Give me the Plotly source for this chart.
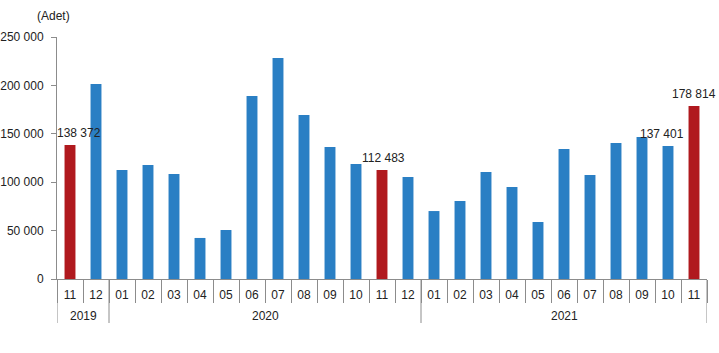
import plotly.graph_objects as go

years = ["2019"] * 2 + ["2020"] * 12 + ["2021"] * 11
months = ["11", "12"] + [f"{m:02d}" for m in range(1, 13)] + [f"{m:02d}" for m in range(1, 12)]
values = [138372, 201500, 112600, 117800, 108500, 42400, 50600, 189000, 228300, 169400,
          136400, 118800, 112483, 105400, 70200, 80600, 110500, 95000, 58900, 134300,
          107400, 140500, 146700, 137401, 178814]
highlight = [0, 12, 24]
labeled = {0: "138 372", 12: "112 483", 23: "137 401", 24: "178 814"}
label_xshift = {0: 9, 12: 1, 23: -6, 24: 0}

BLUE = "#2A7FC4"
RED = "#B0191E"
GRAY = "#8c8c8c"
FONT = "Liberation Sans, Arial, sans-serif"
colors = [RED if i in highlight else BLUE for i in range(len(values))]
xs = list(range(len(values)))

fig = go.Figure(go.Bar(
    x=xs, y=values,
    marker=dict(color=colors, line=dict(width=0)),
    hoverinfo="x+y",
))

annotations = [dict(text="(Adet)", xref="paper", yref="paper", x=-0.006, y=1.087,
                    xanchor="center", yanchor="middle", showarrow=False,
                    font=dict(size=12, color="#222"))]
for i, t in labeled.items():
    annotations.append(dict(text=t, x=xs[i], y=values[i], xref="x", yref="y",
                            xanchor="center", yanchor="bottom", yshift=3,
                            xshift=label_xshift[i], showarrow=False,
                            font=dict(size=12, color="#222")))

# year groups: boundaries and centred labels
shapes = []
groups = []
for i, yv in enumerate(years):
    if not groups or groups[-1][0] != yv:
        groups.append([yv, i, i])
    else:
        groups[-1][2] = i
plot_h = 353 - 37 - 74
for yv, a, b in groups:
    annotations.append(dict(text=yv, x=(a + b) / 2, xref="x", yref="paper",
                            y=-(316 - 279) / plot_h, xanchor="center", yanchor="middle",
                            showarrow=False, font=dict(size=12, color="#222")))
bounds = sorted({g[1] - 0.5 for g in groups} | {groups[-1][2] + 0.5})
for bx in bounds:
    shapes.append(dict(type="line", xref="x", yref="paper", x0=bx, x1=bx,
                       y0=0, y1=-44 / plot_h, line=dict(color=GRAY, width=1)))

fig.update_layout(
    width=719, height=353,
    margin=dict(l=57, r=12, t=37, b=74),
    paper_bgcolor="white", plot_bgcolor="white",
    bargap=0.58, showlegend=False,
    separators=", ",
    font=dict(family=FONT, size=12, color="#222"),
    annotations=annotations, shapes=shapes,
)
fig.update_yaxes(range=[0, 250000], dtick=50000, tickformat=",d", showgrid=False,
                 showline=True, linecolor=GRAY, linewidth=1, ticks="outside",
                 ticklen=5, tickcolor=GRAY, zeroline=False, ticklabelstandoff=5,
                 automargin=False)
fig.update_xaxes(range=[-0.5, len(values) - 0.5], tickmode="array", tickvals=xs,
                 ticktext=months, ticks="", showline=True, linecolor=GRAY, linewidth=1,
                 showgrid=False, zeroline=False, ticklabelstandoff=5, automargin=False,
                 minor=dict(ticks="outside", tickmode="linear", tick0=0.5, dtick=1,
                            ticklen=23, tickcolor=GRAY, tickwidth=1, showgrid=False))

fig.write_html("out.html")
